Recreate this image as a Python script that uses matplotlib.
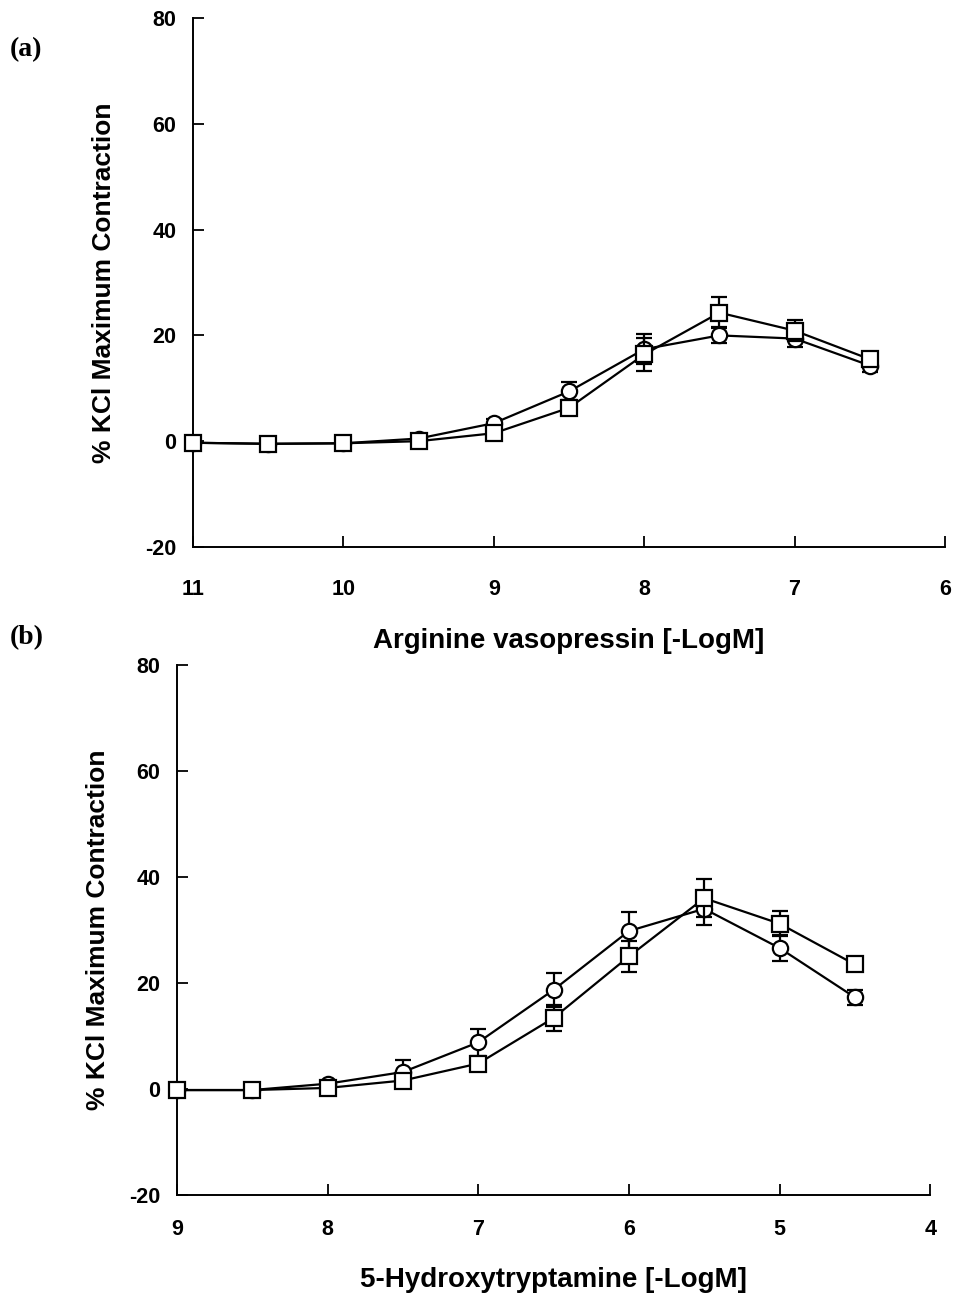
import matplotlib
matplotlib.use("Agg")
import matplotlib.pyplot as plt

# ---- data ----
x_a = [11, 10.5, 10, 9.5, 9, 8.5, 8, 7.5, 7, 6.5]
circ_a = [-0.3, -0.5, -0.4, 0.5, 3.4, 9.4, 17.4, 20.0, 19.4, 14.3]
circ_a_err = [0.3, 0.3, 0.3, 0.4, 0.8, 1.7, 2.8, 1.5, 1.6, 1.2]
sq_a = [-0.3, -0.5, -0.4, 0.0, 1.5, 6.3, 16.4, 24.3, 20.9, 15.5]
sq_a_err = [0.3, 0.3, 0.3, 0.4, 0.6, 1.0, 3.2, 2.9, 2.0, 1.2]

x_b = [9, 8.5, 8, 7.5, 7, 6.5, 6, 5.5, 5, 4.5]
circ_b = [-0.2, -0.2, 1.0, 3.2, 8.8, 18.7, 29.8, 34.0, 26.6, 17.3]
circ_b_err = [0.3, 0.3, 0.5, 2.2, 2.5, 3.2, 3.6, 3.0, 2.5, 1.4]
sq_b = [-0.2, -0.2, 0.2, 1.6, 4.8, 13.4, 25.0, 36.0, 31.2, 23.5]
sq_b_err = [0.3, 0.3, 0.4, 0.6, 0.8, 2.5, 3.0, 3.6, 2.4, 1.3]

xticks_a = [11, 10, 9, 8, 7, 6]
xticks_b = [9, 8, 7, 6, 5, 4]
yticks = [-20, 0, 20, 40, 60, 80]
ylabel = "% KCl Maximum Contraction"
xlabel_a = "Arginine vasopressin [-LogM]"
xlabel_b = "5-Hydroxytryptamine [-LogM]"

plt.rcParams['font.family'] = ['Liberation Sans', 'DejaVu Sans']

fig = plt.figure(figsize=(9.54, 12.93), dpi=100)
ax_a = fig.add_axes([0.2023, 0.577, 0.7883, 0.409])
ax_b = fig.add_axes([0.1855, 0.0758, 0.7895, 0.4099])

def style(ax, xt, xlim, xl, xpad, ylpad):
    ax.set_xlim(xlim)
    ax.set_ylim(-20, 80)
    ax.set_xticks(xt)
    ax.set_yticks(yticks)
    ax.set_xticklabels([str(v) for v in xt], fontsize=15.5, fontweight='bold')
    ax.set_yticklabels([str(v) for v in yticks], fontsize=15.5, fontweight='bold')
    for s in ['top', 'right']:
        ax.spines[s].set_visible(False)
    for s in ['left', 'bottom']:
        ax.spines[s].set_linewidth(1.4)
    ax.tick_params(axis='x', direction='in', length=8, width=1.3, pad=xpad)
    ax.tick_params(axis='y', direction='in', length=8, width=1.3, pad=12)
    ax.set_ylabel(ylabel, fontsize=19, fontweight='bold', labelpad=ylpad)
    ax.set_xlabel(xl, fontsize=20, fontweight='bold', labelpad=20)

def draw(ax, x, c, ce, s, se):
    kw = dict(color='black', lw=1.6, elinewidth=1.6, capsize=6, capthick=1.6,
              markersize=11, markeredgewidth=1.6, markerfacecolor='white',
              markeredgecolor='black', clip_on=False)
    ax.errorbar(x, c, yerr=ce, marker='o', zorder=3, **kw)
    ax.errorbar(x, s, yerr=se, marker='s', zorder=4, **kw)

draw(ax_a, x_a, circ_a, circ_a_err, sq_a, sq_a_err)
style(ax_a, xticks_a, (11, 6), xlabel_a, 23, 21)
draw(ax_b, x_b, circ_b, circ_b_err, sq_b, sq_b_err)
style(ax_b, xticks_b, (9, 4), xlabel_b, 17, 14)

fig.text(0.010, 0.962, "(a)", fontsize=20, fontweight='bold',
         family=['Liberation Serif', 'DejaVu Serif'], va='center')
fig.text(0.010, 0.507, "(b)", fontsize=20, fontweight='bold',
         family=['Liberation Serif', 'DejaVu Serif'], va='center')

fig.savefig("out.png", dpi=100)
